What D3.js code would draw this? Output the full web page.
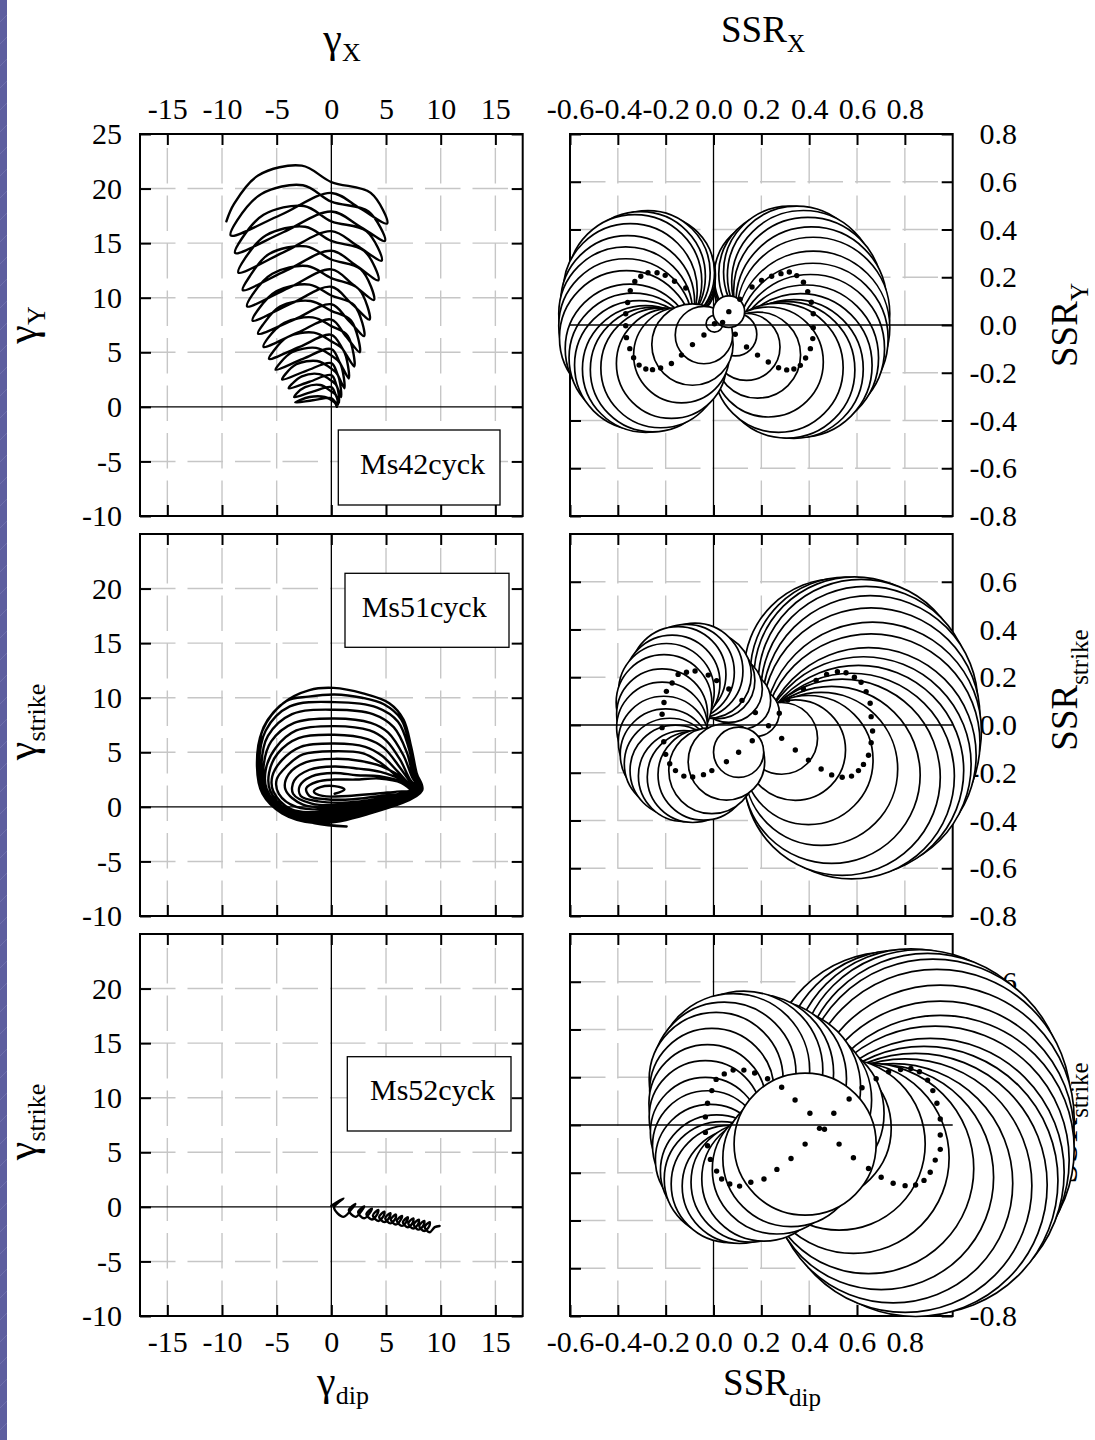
<!DOCTYPE html>
<html>
<head>
<meta charset="utf-8">
<script src="https://cdn.jsdelivr.net/npm/d3@7"></script>
<style>
html, body { margin: 0; padding: 0; background: #fff; }
svg { display: block; }
</style>
</head>
<body>
<svg id="fig" width="1095" height="1440"></svg>
<script>
// ---------- axis ticks and labels ----------
const gammaTicks = [-15, -10, -5, 0, 5, 10, 15];
const gammaYLabelsTop = [-10, -5, 0, 5, 10, 15, 20, 25];
const gammaYLabels = [-10, -5, 0, 5, 10, 15, 20];
const gammaGridX = [-15, -10, -5, 5, 10, 15];
const gammaGridY = [-5, 5, 10, 15, 20];
const ssrXTicks = [-0.6, -0.4, -0.2, 0, 0.2, 0.4, 0.6, 0.8];
const ssrYLabelsTop = [-0.8, -0.6, -0.4, -0.2, 0, 0.2, 0.4, 0.6, 0.8];
const ssrYLabels = [-0.8, -0.6, -0.4, -0.2, 0, 0.2, 0.4, 0.6];
const ssrGridX = [-0.4, -0.2, 0.2, 0.4, 0.6, 0.8];
const ssrGridY = [-0.6, -0.4, -0.2, 0.2, 0.4, 0.6];
const specimens = ["Ms42cyck", "Ms51cyck", "Ms52cyck"];

// ---------- strain paths [gamma_h, gamma_v] ----------
const strainMs42 = [
  [-9.6,17.0],[-8.9,18.6],[-6.7,21.2],[-2.7,22.1],[0,20.6],[3.6,19.6],[5.1,16.8],[2.6,18.2],[0,19.6],[-4.6,17.6],
  [-9.2,15.7],[-8.6,17.1],[-6.4,19.5],[-2.6,20.3],[0,18.8],[3.4,17.9],[4.9,15.2],[2.5,16.6],[0,17.9],[-4.4,16.0],
  [-8.8,14.1],[-8.2,15.4],[-6.2,17.6],[-2.5,18.4],[0,17.0],[3.2,16.1],[4.6,13.4],[2.3,14.8],[0,16.1],[-4.3,14.2],
  [-8.5,12.3],[-7.9,13.6],[-6.0,15.7],[-2.4,16.5],[0,15.2],[3.0,14.3],[4.3,11.6],[2.2,13.0],[0,14.3],[-4.1,12.5],
  [-8.1,10.7],[-7.5,11.9],[-5.7,14.0],[-2.3,14.7],[0,13.5],[2.7,12.6],[3.9,9.8],[2.0,11.2],[0,12.6],[-3.9,10.9],
  [-7.7,9.2],[-7.2,10.3],[-5.4,12.2],[-2.2,12.9],[0,11.8],[2.5,10.8],[3.5,8.0],[1.8,9.5],[0,11.0],[-3.6,9.5],
  [-7.2,7.9],[-6.7,8.9],[-5.0,10.6],[-2.0,11.2],[0,10.2],[2.1,9.3],[3.0,6.5],[1.5,8.0],[0,9.4],[-3.4,8.0],
  [-6.7,6.7],[-6.2,7.6],[-4.7,9.2],[-1.9,9.7],[0,8.8],[1.8,7.9],[2.6,5.0],[1.3,6.5],[0,8.0],[-3.1,6.8],
  [-6.2,5.5],[-5.8,6.3],[-4.3,7.7],[-1.7,8.2],[0,7.4],[1.5,6.5],[2.1,3.7],[1.1,5.2],[0,6.6],[-2.9,5.5],
  [-5.7,4.4],[-5.3,5.1],[-4.0,6.4],[-1.6,6.8],[0,6.0],[1.1,5.2],[1.6,2.6],[0.8,4.0],[0,5.3],[-2.6,4.4],
  [-5.1,3.4],[-4.7,4.0],[-3.6,5.0],[-1.4,5.4],[0,4.7],[0.8,4.0],[1.2,1.7],[0.6,2.9],[0,4.0],[-2.3,3.3],
  [-4.5,2.5],[-4.2,3.0],[-3.2,3.9],[-1.3,4.2],[0,3.5],[0.6,2.9],[0.9,0.9],[0.5,1.9],[0,2.9],[-2.0,2.3],
  [-3.9,1.7],[-3.6,2.1],[-2.7,2.8],[-1.1,3.0],[0,2.4],[0.5,1.9],[0.7,0.4],[0.4,1.1],[0,1.8],[-1.7,1.4],
  [-3.4,0.9],[-3.2,1.2],[-2.4,1.8],[-1.0,2.0],[0,1.4],[0.4,1.1],[0.6,0.2],[0.3,0.5],[0,0.8],[-1.7,0.6],
  [-3.3,0.4],[-2.0,0.9],[-0.6,0.9],[0.3,0.4],[0.5,0.0]
];

const strainMs51 = [
  [0.3,1.2],[1.2,1.6],[0.3,1.9],[-1.0,1.8],[-1.6,1.4],[-0.8,1.0],[1.5,1.0],[4.0,1.2],[6.0,1.4],[7.2,1.5],
  [6.4,2.2],[4.4,2.6],[2.2,2.5],[0.3,2.5],[-1.3,2.3],[-2.3,1.7],[-2.0,1.0],[-0.5,0.7],[2.0,0.7],[4.5,1.0],[7.4,1.5],
  [6.6,2.2],[4.4,2.8],[2.3,2.9],[0.3,3.1],[-1.8,2.8],[-2.9,1.9],[-2.8,1.0],[-1.2,0.5],[1.5,0.4],[4.5,0.8],[7.5,1.5],
  [6.7,2.3],[4.5,3.2],[2.5,3.5],[0.3,3.7],[-2.0,3.4],[-3.4,2.4],[-3.5,1.2],[-1.8,0.3],[1.2,0.2],[4.5,0.7],[7.6,1.5],
  [6.8,2.4],[4.6,3.7],[2.7,4.2],[0.3,4.4],[-2.3,4.1],[-3.9,3.0],[-4.2,1.6],[-2.6,0.2],[0.8,0.0],[4.5,0.6],[7.7,1.5],
  [7.0,2.0],[6.0,2.8],[4.4,4.1],[2.9,4.9],[0.3,5.1],[-2.6,4.8],[-4.1,3.7],[-5.0,2.5],[-4.8,1.2],[-3.2,0.0],[0.4,-0.2],[4.3,0.4],[7.8,1.5],
  [7.1,2.1],[6.1,3.2],[4.6,4.7],[3.1,5.5],[0.3,5.8],[-2.8,5.5],[-4.5,4.3],[-5.4,2.8],[-5.3,1.4],[-3.7,-0.2],[0.1,-0.4],[4.2,0.3],[7.9,1.5],
  [7.2,2.3],[6.2,3.7],[4.8,5.4],[3.3,6.2],[0.3,6.6],[-3.0,6.3],[-4.9,4.9],[-5.7,3.1],[-5.6,1.5],[-4.0,-0.3],[-0.2,-0.6],[4.1,0.2],[8.0,1.5],
  [7.2,2.5],[6.3,4.3],[5.0,6.1],[3.5,7.0],[0.3,7.4],[-3.2,7.0],[-5.1,5.4],[-6.0,3.4],[-5.9,1.6],[-4.2,-0.4],[-0.5,-0.8],[4.0,0.0],[8.1,1.5],
  [7.4,2.7],[6.6,4.7],[5.2,6.8],[3.6,7.7],[0.3,8.1],[-3.4,7.7],[-5.5,6.0],[-6.2,3.7],[-6.0,1.6],[-4.4,-0.5],[-0.8,-1.0],[3.8,-0.1],[8.15,1.5],
  [7.5,2.8],[6.9,5.0],[5.7,7.3],[3.8,8.5],[0.3,8.9],[-3.6,8.5],[-5.8,6.5],[-6.4,3.8],[-6.1,1.5],[-4.5,-0.5],[-1.0,-1.2],[3.6,-0.3],[8.2,1.5],
  [7.6,3.0],[7.1,5.3],[6.1,7.8],[4.2,9.1],[0.3,9.6],[-3.8,9.2],[-6.0,7.0],[-6.6,3.8],[-6.2,1.4],[-4.5,-0.6],[-1.2,-1.4],[3.4,-0.5],[8.25,1.5],
  [7.7,3.1],[7.2,5.4],[6.4,8.0],[4.8,9.4],[2.8,10.0],[0.3,10.3],[-2.1,10.1],[-4.1,9.7],[-6.2,7.3],[-6.7,3.8],[-6.3,1.3],[-4.5,-0.6],[-1.3,-1.5],[3.2,-0.7],[8.3,1.5],
  [7.8,3.1],[7.3,5.5],[6.6,8.0],[5.3,9.5],[2.9,10.4],[0.2,10.9],[-2.0,10.7],[-4.4,9.5],[-6.3,7.0],[-6.8,3.7],[-6.3,1.2],[-4.5,-0.6],[-1.5,-1.5],[1.4,-1.8]
];

const strainMs52 = [
  [0.0,0.1],[1.1,0.78],[0.25,-0.07],[1.1,-0.92],[1.95,-0.07],
  [2.2,0.28],[1.6,-0.32],[2.2,-0.92],[2.8,-0.32],
  [3.0,0.05],[2.45,-0.5],[3.0,-1.05],[3.55,-0.5],
  [3.7,-0.16],[3.2,-0.66],[3.7,-1.16],[4.2,-0.66],
  [4.3,-0.29],[3.8,-0.79],[4.3,-1.29],[4.8,-0.79],
  [4.85,-0.44],[4.37,-0.92],[4.85,-1.4],[5.33,-0.92],
  [5.4,-0.57],[4.93,-1.04],[5.4,-1.51],[5.87,-1.04],
  [5.9,-0.7],[5.44,-1.16],[5.9,-1.62],[6.36,-1.16],
  [6.45,-0.82],[5.99,-1.28],[6.45,-1.74],[6.91,-1.28],
  [7.0,-0.95],[6.54,-1.41],[7.0,-1.87],[7.46,-1.41],
  [7.5,-1.06],[7.04,-1.52],[7.5,-1.98],[7.96,-1.52],
  [8.0,-1.17],[7.54,-1.63],[8.0,-2.09],[8.46,-1.63],
  [8.5,-1.29],[8.04,-1.75],[8.5,-2.21],[8.96,-1.75],
  [9.0,-1.4],[8.54,-1.86],[9.0,-2.32],[9.46,-1.86],
  [9.9,-1.75]
];

// ---------- stress-ratio circles per cycle [centre x, centre y, radius], in drawing order ----------
const ssrMs42Right = [
  [0.110,0.108,0.10],[0.161,0.159,0.16],[0.201,0.187,0.20],[0.243,0.204,0.24],[0.282,0.215,0.26],
  [0.317,0.222,0.275],[0.348,0.207,0.29],[0.376,0.179,0.30],[0.394,0.140,0.31],[0.409,0.095,0.315],
  [0.417,0.047,0.32],[0.417,-0.011,0.32],[0.415,-0.057,0.315],[0.405,-0.099,0.31],[0.385,-0.138,0.305],
  [0.363,-0.169,0.30],[0.336,-0.184,0.29],[0.306,-0.188,0.285],[0.272,-0.179,0.27],[0.229,-0.155,0.23],
  [0.184,-0.126,0.18],[0.138,-0.092,0.14],[0.091,-0.039,0.09]
];
const ssrMs42Left = [
  [-0.116,0.155,0.12],[-0.163,0.183,0.17],[-0.202,0.208,0.21],[-0.236,0.219,0.24],[-0.274,0.219,0.26],
  [-0.304,0.204,0.27],[-0.329,0.182,0.28],[-0.348,0.144,0.28],[-0.359,0.094,0.28],[-0.367,0.047,0.28],
  [-0.367,-0.003,0.28],[-0.364,-0.053,0.28],[-0.350,-0.099,0.27],[-0.334,-0.137,0.27],[-0.311,-0.168,0.27],
  [-0.283,-0.184,0.265],[-0.255,-0.187,0.26],[-0.221,-0.180,0.25],[-0.176,-0.161,0.23],[-0.134,-0.126,0.20],
  [-0.088,-0.082,0.17],[-0.040,-0.042,0.12]
];
const ssrMs42Centre = [[0.004,0.005,0.035],[0.038,0.011,0],[0.064,0.056,0.066]];

const ssrMs51Right = [
  [0.275,0.049,0.14],[0.310,0.105,0.18],[0.376,0.151,0.25],[0.429,0.187,0.30],[0.473,0.212,0.34],
  [0.518,0.223,0.39],[0.554,0.219,0.40],[0.589,0.200,0.42],[0.617,0.179,0.43],[0.638,0.140,0.44],
  [0.655,0.091,0.45],[0.659,0.035,0.455],[0.665,-0.025,0.455],[0.659,-0.074,0.455],[0.648,-0.127,0.45],
  [0.627,-0.165,0.45],[0.606,-0.191,0.44],[0.577,-0.214,0.43],[0.538,-0.219,0.41],[0.494,-0.209,0.37],
  [0.450,-0.184,0.32],[0.397,-0.147,0.27],[0.342,-0.105,0.21],[0.285,-0.056,0.15]
];
const ssrMs51Left = [
  [0.175,0.052,0.10],[0.119,0.103,0.12],[0.064,0.151,0.14],[0.013,0.186,0.16],[-0.022,0.209,0.18],
  [-0.077,0.226,0.20],[-0.113,0.221,0.20],[-0.148,0.212,0.20],[-0.173,0.176,0.20],[-0.197,0.141,0.20],
  [-0.207,0.094,0.20],[-0.215,0.045,0.19],[-0.215,-0.011,0.19],[-0.208,-0.070,0.19],[-0.200,-0.123,0.19],
  [-0.183,-0.162,0.19],[-0.159,-0.191,0.19],[-0.124,-0.214,0.19],[-0.087,-0.218,0.19],[-0.042,-0.208,0.19],
  [-0.007,-0.191,0.18],[0.054,-0.154,0.16],[0.105,-0.114,0.105],[0.162,-0.066,0],[0.230,-0.003,0]
];

const ssrMs52Right = [
  [0.464,-0.018,0.35],[0.503,0.049,0.38],[0.567,0.109,0.42],[0.621,0.156,0.45],[0.680,0.194,0.48],
  [0.732,0.223,0.50],[0.782,0.232,0.50],[0.825,0.237,0.50],[0.861,0.223,0.51],[0.895,0.188,0.53],
  [0.917,0.144,0.55],[0.934,0.091,0.56],[0.948,0.025,0.56],[0.948,-0.042,0.56],[0.948,-0.102,0.56],
  [0.927,-0.147,0.56],[0.906,-0.198,0.56],[0.880,-0.232,0.56],[0.845,-0.251,0.55],[0.801,-0.254,0.53],
  [0.751,-0.244,0.50],[0.701,-0.219,0.47],[0.648,-0.182,0.44],[0.585,-0.137,0.40],[0.525,-0.080,0.36]
];
const ssrMs52Left = [
  [0.443,-0.014,0.30],[0.403,0.049,0.31],[0.341,0.105,0.32],[0.285,0.158,0.33],[0.226,0.194,0.33],
  [0.172,0.218,0.33],[0.127,0.230,0.33],[0.082,0.230,0.32],[0.045,0.214,0.30],[0.011,0.191,0.28],
  [-0.007,0.144,0.26],[-0.025,0.091,0.245],[-0.034,0.034,0.235],[-0.034,-0.031,0.23],[-0.025,-0.087,0.23],
  [-0.013,-0.144,0.23],[0.013,-0.193,0.235],[0.034,-0.226,0.24],[0.068,-0.247,0.245],[0.109,-0.256,0.24],
  [0.156,-0.240,0.25],[0.211,-0.226,0.26],[0.265,-0.186,0.27],[0.324,-0.140,0.285],[0.383,-0.080,0.297]
];

// ---------- layout ----------
const FONT = '"Liberation Serif", "Times New Roman", Times, serif';
const TICK_FS = 30;
const W = 382.7, H = 382;
const colX = [140, 570];
const rowY = [134, 534, 934];
const RIGHT_LABEL_EDGE = 1017;

const svg = d3.select("#fig");
svg.append("rect").attr("width", 1095).attr("height", 1440).attr("fill", "#fff");

// slide-template side band
const defs = svg.append("defs");
const pat = defs.append("pattern").attr("id", "band").attr("patternUnits", "userSpaceOnUse")
  .attr("width", 7).attr("height", 22);
pat.append("rect").attr("width", 7).attr("height", 22).attr("fill", "#5d5e9f");
pat.append("line").attr("x1", 0).attr("y1", 22).attr("x2", 7).attr("y2", 15)
  .attr("stroke", "#7475b0").attr("stroke-width", 0.8);
svg.append("rect").attr("x", 0).attr("y", 0).attr("width", 7).attr("height", 1440).attr("fill", "url(#band)");

// ---------- axis titles (drawn first: the SSR circles may run over them) ----------
function title(x, y, main, sub, fsMain, fsSub, rotate, subShift) {
  const t = svg.append("text").attr("font-family", FONT).attr("font-size", fsMain)
    .attr("text-anchor", "middle")
    .attr("transform", rotate ? `translate(${x},${y}) rotate(-90)` : `translate(${x},${y})`);
  t.append("tspan").text(main);
  t.append("tspan").attr("font-size", fsSub).attr("dy", subShift).text(sub);
}
title(342, 52, "γ", "X", 42, 26, false, 9);
title(763, 42, "SSR", "X", 37, 25, false, 10);
title(343, 1395, "γ", "dip", 42, 26, false, 9);
title(772, 1395, "SSR", "dip", 37, 25, false, 11);
title(36, 325, "γ", "Y", 42, 26, true, 9);
title(36, 722, "γ", "strike", 42, 26, true, 9);
title(36, 1122, "γ", "strike", 42, 26, true, 9);
title(1077, 325, "SSR", "Y", 37, 25, true, 11);
title(1077, 690, "SSR", "strike", 37, 25, true, 11);
title(1077, 1123, "SSR", "strike", 37, 25, true, 11);

const fmtGamma = d => String(d);
const fmtSsr = d => d.toFixed(1);

function addAxis(gen, scale, values, fmt, show, tx, ty, pad) {
  const a = gen(scale).tickValues(values).tickSize(-11).tickPadding(pad)
    .tickFormat(show ? fmt : () => "");
  const ag = svg.append("g").attr("transform", `translate(${tx},${ty})`).call(a);
  ag.select(".domain").remove();
  ag.selectAll("line").attr("stroke", "#000").attr("stroke-width", 2);
  ag.attr("font-family", FONT).attr("font-size", TICK_FS);
  ag.selectAll("text").attr("fill", "#000");
  return ag;
}

function panel(col, row, cfg) {
  const x0 = colX[col], y0 = rowY[row];
  const x = d3.scaleLinear().domain(cfg.xDomain).range([x0, x0 + W]);
  const y = d3.scaleLinear().domain(cfg.yDomain).range([y0 + H, y0]);
  const g = svg.append("g");
  // dashed grid: horizontal lines run left to right, vertical ones bottom to top
  g.selectAll("line.gx").data(cfg.gridX).join("line")
    .attr("x1", d => x(d)).attr("x2", d => x(d)).attr("y1", y0 + H).attr("y2", y0)
    .attr("stroke", "#c6c6c6").attr("stroke-width", 1.4).attr("stroke-dasharray", "35.5,12");
  g.selectAll("line.gy").data(cfg.gridY).join("line")
    .attr("x1", x0).attr("x2", x0 + W).attr("y1", d => y(d)).attr("y2", d => y(d))
    .attr("stroke", "#c6c6c6").attr("stroke-width", 1.4).attr("stroke-dasharray", "35.5,12");
  g.append("line").attr("x1", x(0)).attr("x2", x(0)).attr("y1", y0).attr("y2", y0 + H)
    .attr("stroke", "#000").attr("stroke-width", 1.3);
  if (!cfg.zeroOnTop) {
    g.append("line").attr("x1", x0).attr("x2", x0 + W).attr("y1", y(0)).attr("y2", y(0))
      .attr("stroke", "#000").attr("stroke-width", 1.3);
  }
  addAxis(d3.axisTop, x, cfg.xTicks, cfg.fmt, row === 0, 0, y0, 15);
  addAxis(d3.axisBottom, x, cfg.xTicks, cfg.fmt, row === 2, 0, y0 + H, 15);
  addAxis(d3.axisLeft, y, cfg.yTicks, cfg.fmt, col === 0, x0, 0, 18);
  const ar = addAxis(d3.axisRight, y, cfg.yTicks, cfg.fmt, col === 1, x0 + W, 0, 11);
  // right-hand labels are right-aligned so minus signs hang to the left
  ar.selectAll("text").attr("text-anchor", "end").attr("x", RIGHT_LABEL_EDGE - (x0 + W));
  g.append("rect").attr("x", x0).attr("y", y0).attr("width", W).attr("height", H)
    .attr("fill", "none").attr("stroke", "#000").attr("stroke-width", 2);
  return { x, y, x0, y0 };
}

const strainLine = (x, y) => d3.line().x(d => x(d[0])).y(d => y(d[1]))
  .curve(d3.curveCatmullRom.alpha(0.5));

function strainPanel(row, data, legend) {
  const p = panel(0, row, {
    xDomain: [-17.5, 17.5], yDomain: [-10, 25], gridX: gammaGridX, gridY: gammaGridY,
    xTicks: gammaTicks, yTicks: row === 0 ? gammaYLabelsTop : gammaYLabels, fmt: fmtGamma
  });
  svg.append("path").datum(data).attr("d", strainLine(p.x, p.y))
    .attr("fill", "none").attr("stroke", "#000").attr("stroke-width", 2.4)
    .attr("stroke-linejoin", "round").attr("stroke-linecap", "round");
  svg.append("rect").attr("x", p.x0 + legend.bx).attr("y", p.y0 + legend.by)
    .attr("width", legend.bw).attr("height", legend.bh)
    .attr("fill", "#fff").attr("stroke", "#000").attr("stroke-width", 1.3);
  svg.append("text").attr("x", p.x0 + legend.tx).attr("y", p.y0 + legend.ty)
    .attr("font-family", FONT).attr("font-size", 30).text(legend.name);
}

function ssrPanel(row, lobes) {
  const p = panel(1, row, {
    xDomain: [-0.6, 1.0], yDomain: [-0.8, 0.8], gridX: ssrGridX, gridY: ssrGridY,
    xTicks: ssrXTicks, yTicks: row === 0 ? ssrYLabelsTop : ssrYLabels, fmt: fmtSsr, zeroOnTop: true
  });
  const all = lobes.flat();
  svg.append("g").selectAll("circle").data(all.filter(d => d[2] > 0)).join("circle")
    .attr("cx", d => p.x(d[0])).attr("cy", d => p.y(d[1]))
    .attr("r", d => p.x(d[0] + d[2]) - p.x(d[0]))
    .attr("fill", "#fff").attr("stroke", "#000").attr("stroke-width", 1.7);
  svg.append("line").attr("x1", p.x0).attr("x2", p.x0 + W).attr("y1", p.y(0)).attr("y2", p.y(0))
    .attr("stroke", "#000").attr("stroke-width", 1.3);
  svg.append("g").selectAll("circle").data(all).join("circle")
    .attr("cx", d => p.x(d[0])).attr("cy", d => p.y(d[1])).attr("r", 2.7).attr("fill", "#000");
}

strainPanel(0, strainMs42, { name: specimens[0], bx: 198.3, by: 296, bw: 161.7, bh: 75, tx: 220, ty: 340 });
strainPanel(1, strainMs51, { name: specimens[1], bx: 205, by: 39.3, bw: 164, bh: 74, tx: 221.7, ty: 82.7 });
strainPanel(2, strainMs52, { name: specimens[2], bx: 207.3, by: 122.7, bw: 163.7, bh: 74.3, tx: 230, ty: 166 });

ssrPanel(0, [ssrMs42Right, ssrMs42Left, ssrMs42Centre]);
ssrPanel(1, [ssrMs51Right, ssrMs51Left]);
ssrPanel(2, [ssrMs52Right, ssrMs52Left]);
</script>
</body>
</html>
